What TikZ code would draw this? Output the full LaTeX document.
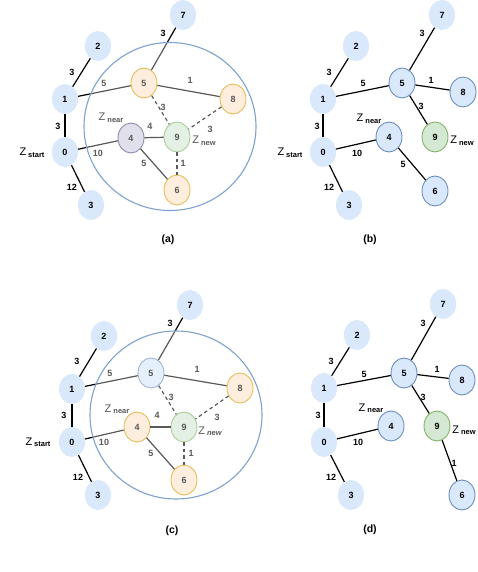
\documentclass[tikz,border=0pt]{standalone}
\usepackage{fontspec}
\setmainfont{Liberation Sans}
\usetikzlibrary{shapes.geometric}
\definecolor{nblue}{HTML}{DAE8FC}
\definecolor{bblue}{HTML}{6C8EBF}
\definecolor{zblue}{HTML}{7FA2CF}
\definecolor{norange}{HTML}{FFE6CC}
\definecolor{borange}{HTML}{D79B00}
\definecolor{ngray}{HTML}{D0CEE2}
\definecolor{bgray}{HTML}{56517E}
\definecolor{ngreen}{HTML}{D5E8D4}
\definecolor{bgreen}{HTML}{82B366}
\newcommand\zsub[1]{Z\hspace{2pt}\raisebox{-1.5pt}{\fontsize{7.5}{8}\selectfont\bfseries #1}}
\begin{document}
\begin{tikzpicture}[x=1pt,y=-1pt,
 vx/.style={ellipse, minimum width=26pt, minimum height=30pt, inner sep=0pt, font=\fontsize{9}{10}\selectfont\bfseries},
 vplain/.style={vx, fill=nblue},
 vblue/.style={vx, fill=nblue, draw=bblue, line width=0.9pt},
 vorange/.style={vx, fill=norange, draw=borange, line width=0.9pt},
 vgray/.style={vx, fill=ngray, draw=bgray, line width=0.9pt},
 vgreen/.style={vx, fill=ngreen, draw=bgreen, line width=0.9pt},
 link/.style={line width=1.2pt, black},
 dlink/.style={link, dash pattern=on 3.5pt off 3pt},
 wlab/.style={font=\fontsize{9}{10}\selectfont\bfseries, inner sep=0pt},
 zlab/.style={font=\fontsize{11}{12}\selectfont, inner sep=0pt},
 plabel/.style={font=\fontsize{10.5}{12}\selectfont\bfseries, inner sep=0pt},
 zone/.style={draw=zblue, line width=1.1pt, fill=white, fill opacity=0.35}
]
\useasboundingbox (0,0) rectangle (478,572);
\fill[white] (0,0) rectangle (478,572);

% ---------- (a) ----------
\node[vplain] (a7) at (183,15) {7};
\node[vplain] (a2) at (98,46) {2};
\node[vplain] (a1) at (65,99) {1};
\node[vplain] (a0) at (65,152) {0};
\node[vplain] (a3) at (91,205) {3};
\node[vorange] (a5) at (144,83) {5};
\node[vorange] (a8) at (233,99) {8};
\node[vgray] (a4) at (131,138) {4};
\node[vgreen] (a9) at (177,137) {9};
\node[vorange] (a6) at (177,190) {6};
\draw[link] (a1) -- (a2);
\draw[link] (a0) -- (a1);
\draw[link] (a0) -- (a3);
\draw[link] (a7) -- (a5);
\draw[link] (a1) -- (a5);
\draw[link] (a5) -- (a8);
\draw[link] (a0) -- (a4);
\draw[link] (a4) -- (a9);
\draw[link] (a4) -- (a6);
\draw[dlink] (a5) -- (a9);
\draw[dlink] (a8) -- (a9);
\draw[dlink] (a9) -- (a6);
\node[wlab] (la57) at (163,33) {3};
\node[wlab] (la12) at (72,72) {3};
\node[wlab] (la15) at (104,83) {5};
\node[wlab] (la58) at (190,80) {1};
\node[wlab] (la59) at (163,107) {3};
\node[wlab] (la01) at (58,126) {3};
\node[wlab] (la49) at (150,126) {4};
\node[wlab] (la89) at (210,129) {3};
\node[wlab] (la04) at (98,153) {10};
\node[wlab] (la46) at (144,163) {5};
\node[wlab] (la96) at (183,163) {1};
\node[wlab] (la03) at (72,187) {12};
\node[zlab] (zas) at (32,153) {\zsub{start}};
\node[zlab] (zan) at (111,118) {\zsub{near}};
\node[zlab] (zaw) at (204,141) {\zsub{new}};
\draw[zone] (170,126.5) ellipse[x radius=86, y radius=84];
\node[plabel] (capa) at (168,240) {(a)};

% ---------- (b) ----------
\node[vplain] (b7) at (442,15) {7};
\node[vplain] (b2) at (356,46) {2};
\node[vplain] (b1) at (323,99) {1};
\node[vplain] (b0) at (323,152) {0};
\node[vplain] (b3) at (349,205) {3};
\node[vblue] (b5) at (402,83) {5};
\node[vblue] (b8) at (463,92) {8};
\node[vblue] (b4) at (389,137) {4};
\node[vgreen] (b9) at (435,137) {9};
\node[vblue] (b6) at (435,191) {6};
\draw[link] (b1) -- (b2);
\draw[link] (b0) -- (b1);
\draw[link] (b0) -- (b3);
\draw[link] (b7) -- (b5);
\draw[link] (b1) -- (b5);
\draw[link] (b5) -- (b8);
\draw[link] (b5) -- (b9);
\draw[link] (b0) -- (b4);
\draw[link] (b4) -- (b6);
\node[wlab] (lb57) at (422,33) {3};
\node[wlab] (lb12) at (329,72) {3};
\node[wlab] (lb15) at (363,83) {5};
\node[wlab] (lb58) at (431,80) {1};
\node[wlab] (lb59) at (421,106) {3};
\node[wlab] (lb01) at (317,126) {3};
\node[wlab] (lb04) at (357,153) {10};
\node[wlab] (lb46) at (403,164) {5};
\node[wlab] (lb03) at (329,187) {12};
\node[zlab] (zbs) at (290,153) {\zsub{start}};
\node[zlab] (zbn) at (369,119) {\zsub{near}};
\node[zlab] (zbw) at (462,141) {\zsub{new}};
\node[plabel] (capb) at (370,240) {(b)};

% ---------- (c) ----------
\node[vplain] (c7) at (190,305) {7};
\node[vplain] (c2) at (104,336) {2};
\node[vplain] (c1) at (72,389) {1};
\node[vplain] (c0) at (72,442) {0};
\node[vplain] (c3) at (98,495) {3};
\node[vblue] (c5) at (151,373) {5};
\node[vorange] (c8) at (240,388) {8};
\node[vorange] (c4) at (137,427) {4};
\node[vgreen] (c9) at (184,427) {9};
\node[vorange] (c6) at (184,480) {6};
\draw[link] (c1) -- (c2);
\draw[link] (c0) -- (c1);
\draw[link] (c0) -- (c3);
\draw[link] (c7) -- (c5);
\draw[link] (c1) -- (c5);
\draw[link] (c5) -- (c8);
\draw[link] (c0) -- (c4);
\draw[link] (c4) -- (c9);
\draw[link] (c4) -- (c6);
\draw[dlink] (c5) -- (c9);
\draw[dlink] (c8) -- (c9);
\draw[dlink] (c9) -- (c6);
\node[wlab] (lc57) at (170,323) {3};
\node[wlab] (lc12) at (77,361) {3};
\node[wlab] (lc15) at (110,373) {5};
\node[wlab] (lc58) at (197,369) {1};
\node[wlab] (lc59) at (171,397) {3};
\node[wlab] (lc01) at (64,415) {3};
\node[wlab] (lc49) at (157,415) {4};
\node[wlab] (lc89) at (217,417) {3};
\node[wlab] (lc04) at (104,442) {10};
\node[wlab] (lc46) at (151,453) {5};
\node[wlab] (lc96) at (191,453) {1};
\node[wlab] (lc03) at (78,477) {12};
\node[zlab] (zcs) at (38,442) {\zsub{start}};
\node[zlab] (zcn) at (117,409) {\zsub{near}};
\node[zlab] (zcw) at (210,431) {Z\hspace{2pt}\raisebox{-1.5pt}{\fontsize{7.5}{8}\selectfont\bfseries\itshape new}};
\draw[zone] (176,415) ellipse[x radius=86, y radius=84];
\node[plabel] (capc) at (172,531) {(c)};

% ---------- (d) ----------
\node[vplain] (d7) at (443,304) {7};
\node[vplain] (d2) at (357,335) {2};
\node[vplain] (d1) at (324,388) {1};
\node[vplain] (d0) at (324,442) {0};
\node[vplain] (d3) at (351,495) {3};
\node[vblue] (d5) at (404,373) {5};
\node[vblue] (d8) at (462,380) {8};
\node[vblue] (d4) at (391,426) {4};
\node[vgreen] (d9) at (437,426) {9};
\node[vblue] (d6) at (462,495) {6};
\draw[link] (d1) -- (d2);
\draw[link] (d0) -- (d1);
\draw[link] (d0) -- (d3);
\draw[link] (d7) -- (d5);
\draw[link] (d1) -- (d5);
\draw[link] (d5) -- (d8);
\draw[link] (d5) -- (d9);
\draw[link] (d0) -- (d4);
\draw[link] (d9) -- (d6);
\node[wlab] (ld57) at (423,323) {3};
\node[wlab] (ld12) at (331,361) {3};
\node[wlab] (ld15) at (364,374) {5};
\node[wlab] (ld58) at (437,369) {1};
\node[wlab] (ld59) at (423,397) {3};
\node[wlab] (ld01) at (318,415) {3};
\node[wlab] (ld04) at (358,442) {10};
\node[wlab] (ld96) at (454,463) {1};
\node[wlab] (ld03) at (331,477) {12};
\node[zlab] (zdn) at (371,408) {\zsub{near}};
\node[zlab] (zdw) at (464,430) {\zsub{new}};
\node[plabel] (capd) at (370,530) {(d)};
\end{tikzpicture}
\end{document}
